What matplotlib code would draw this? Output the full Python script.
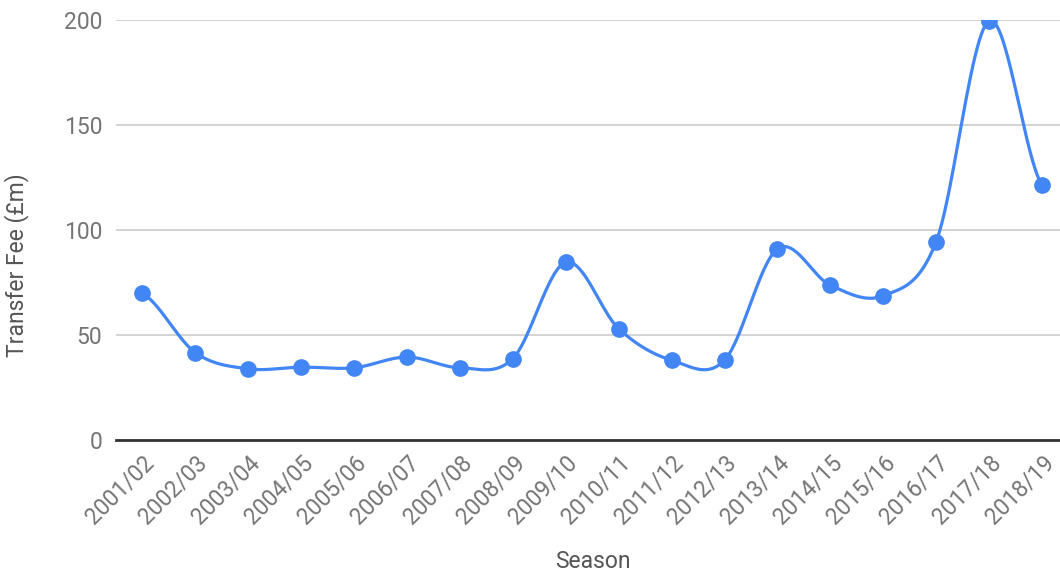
import numpy as np
import matplotlib.pyplot as plt

seasons = ["2001/02", "2002/03", "2003/04", "2004/05", "2005/06", "2006/07",
           "2007/08", "2008/09", "2009/10", "2010/11", "2011/12", "2012/13",
           "2013/14", "2014/15", "2015/16", "2016/17", "2017/18", "2018/19"]
fees = [69.8, 41.6, 33.9, 34.7, 34.4, 39.5, 34.4, 38.8, 84.6, 53.0,
        38.0, 38.0, 91.0, 73.7, 68.7, 94.5, 199.5, 121.4]

blue = "#4285F4"


def smooth_curve(y, tension=1 / 6, n=40):
    # cubic bezier through each pair of points, control points from neighbours
    y = np.asarray(y, dtype=float)
    x = np.arange(len(y), dtype=float)
    xs, ys = [], []
    for i in range(len(y) - 1):
        y0 = y[i - 1] if i > 0 else y[i]
        y3 = y[i + 2] if i + 2 < len(y) else y[i + 1]
        c1 = y[i] + (y[i + 1] - y0) * tension
        c2 = y[i + 1] - (y3 - y[i]) * tension
        t = np.linspace(0, 1, n)
        b = ((1 - t) ** 3 * y[i] + 3 * (1 - t) ** 2 * t * c1
             + 3 * (1 - t) * t ** 2 * c2 + t ** 3 * y[i + 1])
        xs.append(x[i] + t)
        ys.append(b)
    return np.concatenate(xs), np.concatenate(ys)


plt.rcParams['font.family'] = ['Roboto', 'DejaVu Sans']

fig = plt.figure(figsize=(10.6, 5.75), dpi=100)
ax = fig.add_axes([116 / 1060, 1 - 440 / 575, 1 - 116 / 1060, 420 / 575])

x = np.arange(len(seasons))
cx, cy = smooth_curve(fees)
ax.plot(cx, cy, color=blue, lw=2.3, solid_capstyle='round', zorder=3)
ax.plot(x, fees, 'o', color=blue, ms=11, zorder=4)

ax.set_xlim(-0.5, len(seasons) - 1 + 0.34)
ax.set_ylim(0, 200)
ax.set_yticks([0, 50, 100, 150, 200])
ax.set_xticks(x)
ax.set_xticklabels(seasons, rotation=45, ha='right', va='top', rotation_mode='anchor')

ax.grid(axis='y', color='#cccccc', lw=1.2)
ax.set_axisbelow(True)
for s in ['top', 'right', 'left']:
    ax.spines[s].set_visible(False)
ax.spines['bottom'].set_color('#333333')
ax.spines['bottom'].set_linewidth(2)
ax.spines['bottom'].set_zorder(5)

ax.tick_params(axis='both', length=0, labelsize=16.5, labelcolor='#757575')
ax.tick_params(axis='y', pad=10)
ax.tick_params(axis='x', pad=8)

ax.set_xlabel("Season", fontsize=16.5, color='#555555')
ax.set_ylabel("Transfer Fee (£m)", fontsize=16.5, color='#555555')
ax.xaxis.set_label_coords(0.505, -0.262)
ax.yaxis.set_label_coords(-0.092, 0.417)

fig.savefig("out.png", dpi=100)
